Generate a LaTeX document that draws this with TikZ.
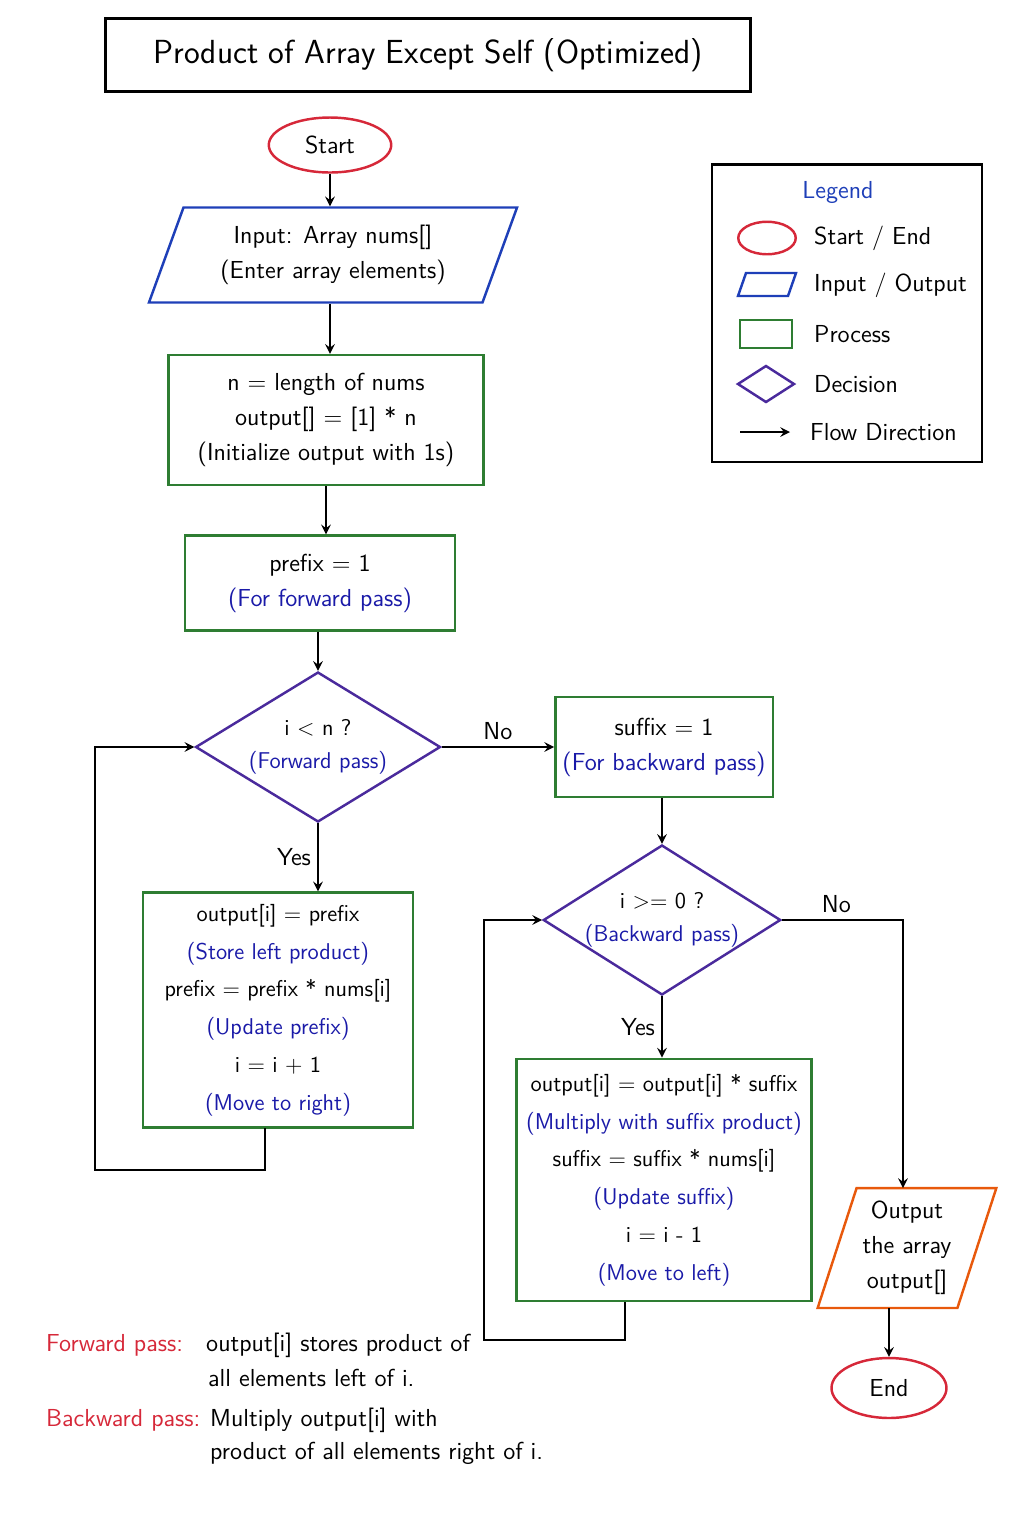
\documentclass[tikz,border=0pt]{standalone}
\usepackage{xcolor}
\usetikzlibrary{shapes,arrows,positioning,calc}
\definecolor{cred}{HTML}{D62839}
\definecolor{cblue}{HTML}{1E3FB8}
\definecolor{cgreen}{HTML}{2E7D32}
\definecolor{cpurp}{HTML}{4A2A9C}
\definecolor{corng}{HTML}{E8590C}
\definecolor{ctxt}{HTML}{1A1AA8}
\tikzset{
base/.style = {draw, line width=1.4pt, align=center, font=\sffamily\fontsize{14}{20}\selectfont},
term/.style = {base, ellipse, draw=cred, minimum width=2.45cm, minimum height=1.1cm},
io/.style   = {base, trapezium, trapezium left angle=70, trapezium right angle=110, draw=cblue, inner xsep=0pt},
proc/.style = {base, rectangle, draw=cgreen},
dec/.style  = {base, diamond, draw=cpurp, aspect=1.6, font=\sffamily\fontsize{13}{19}\selectfont},
note/.style = {font=\sffamily\fontsize{14}{21}\selectfont, anchor=west},
line/.style = {->, >=stealth, line width=1.4pt},
lbl/.style  = {font=\sffamily\fontsize{14}{16}\selectfont}
}
\begin{document}
\begin{tikzpicture}[x=0.02cm, y=-0.02cm]
\useasboundingbox (0,0) rectangle (1024,1536);
% title
\node [draw, line width=1.6pt, minimum width=12.9cm, minimum height=1.45cm, font=\sffamily\fontsize{19}{23}\selectfont] (title) at (428,55) {Product of Array Except Self (Optimized)};
% flow
\node [term] (start) at (330,145) {Start};
\node [io, minimum width=4.8cm, minimum height=1.9cm] (input) at (333,255) {Input: Array nums[]\\(Enter array elements)};
\node [proc, minimum width=6.3cm, minimum height=2.6cm] (init) at (326,420) {n = length of nums\\output[] = [1] * n\\(Initialize output with 1s)};
\node [proc, minimum width=5.4cm, minimum height=1.9cm] (prefix) at (320,583) {prefix = 1\\{\color{ctxt}(For forward pass)}};
\node [dec, minimum width=4.9cm, minimum height=3cm, inner sep=-2pt] (fwd) at (318,747) {i < n ?\\{\color{ctxt}(Forward pass)}};
\node [proc, minimum width=4.35cm, minimum height=2cm] (suffix) at (664,747) {suffix = 1\\{\color{ctxt}(For backward pass)}};
\node [dec, minimum width=4.75cm, minimum height=3cm, inner sep=-2pt] (bwd) at (662,920) {i >= 0 ?\\{\color{ctxt}(Backward pass)}};
\node [proc, minimum width=5.4cm, minimum height=4.7cm, font=\sffamily\fontsize{13}{21.5}\selectfont] (floop) at (278,1010) {output[i] = prefix\\{\color{ctxt}(Store left product)}\\prefix = prefix * nums[i]\\{\color{ctxt}(Update prefix)}\\i = i + 1\\{\color{ctxt}(Move to right)}};
\node [proc, minimum width=5.9cm, minimum height=4.85cm, inner xsep=2pt, font=\sffamily\fontsize{13}{21.5}\selectfont] (bloop) at (664,1180) {output[i] = output[i] * suffix\\{\color{ctxt}(Multiply with suffix product)}\\suffix = suffix * nums[i]\\{\color{ctxt}(Update suffix)}\\i = i - 1\\{\color{ctxt}(Move to left)}};
\node [io, draw=corng, minimum width=2.6cm, minimum height=2.4cm, trapezium left angle=72, trapezium right angle=108] (output) at (907,1248) {Output\\the array\\output[]};
\node [term, minimum width=2.3cm, minimum height=1.2cm] (end) at (889,1388) {End};
% turning points
\coordinate (f1) at (265,1128);
\coordinate (f2) at (265,1170);
\coordinate (f3) at (95,1170);
\coordinate (f4) at (95,747);
\coordinate (b1) at (625,1302);
\coordinate (b2) at (625,1340);
\coordinate (b3) at (484,1340);
\coordinate (b4) at (484,920);
\coordinate (o1) at (903,920);
\coordinate (o2) at (903,1188);
\coordinate (e1) at (889,1308);
% connectors
\draw [line] (start) -- (start |- input.north);
\draw [line] (input.south -| 330,0) -- (init.north -| 330,0);
\draw [line] (init.south -| 326,0) -- (prefix.north -| 326,0);
\draw [line] (prefix.south -| 318,0) -- (fwd.north);
\draw [line] (fwd.east) -- node [above, lbl] {No} (suffix.west |- fwd.east);
\draw [line] (fwd.south) -- node [left, lbl] {Yes} (fwd.south |- floop.north);
\draw [line] (f1) -- (f2) -- (f3) -- (f4) -- (fwd.west);
\draw [line] (suffix.south -| bwd.north) -- (bwd.north);
\draw [line] (bwd.south) -- node [left, lbl] {Yes} (bwd.south |- bloop.north);
\draw [line] (b1) -- (b2) -- (b3) -- (b4) -- (bwd.west);
\draw [line] (bwd.east) -- node [above, pos=0.45, lbl] {No} (o1) -- (o2);
\draw [line] (e1) -- (end);
% legend
\node [draw, line width=1.4pt, minimum width=5.4cm, minimum height=5.95cm] (legend) at (847,313) {};
\node [lbl, text=cblue] (ltitle) at (838,192) {Legend};
\node [term, minimum width=1.15cm, minimum height=0.65cm] (lterm) at (767,238) {};
\draw [line width=1.4pt, draw=cblue] (738,296) -- (788,296) -- (796,273) -- (746,273) -- cycle;
\node [proc, minimum width=1.05cm, minimum height=0.55cm] (lproc) at (766,334) {};
\draw [line width=1.4pt, draw=cpurp] (738,384) -- (766,366) -- (794,384) -- (766,402) -- cycle;
\coordinate (la) at (740,432);
\coordinate (lb) at (790,432);
\draw [line] (la) -- (lb);
\node [note] (lt1) at (808,238) {Start / End};
\node [note] (lt2) at (808,285) {Input / Output};
\node [note] (lt3) at (808,334) {Process};
\node [note] (lt4) at (808,384) {Decision};
\node [note] (lt5) at (804,432) {Flow Direction};
% notes
\node [note, text=cred] (nf) at (40,1345) {Forward pass:};
\node [note] (nf1) at (200,1345) {output[i] stores product of};
\node [note] (nf2) at (202,1378) {all elements left of i.};
\node [note, text=cred] (nb) at (40,1420) {Backward pass:};
\node [note] (nb1) at (204,1420) {Multiply output[i] with};
\node [note] (nb2) at (204,1453) {product of all elements right of i.};
\end{tikzpicture}
\end{document}
